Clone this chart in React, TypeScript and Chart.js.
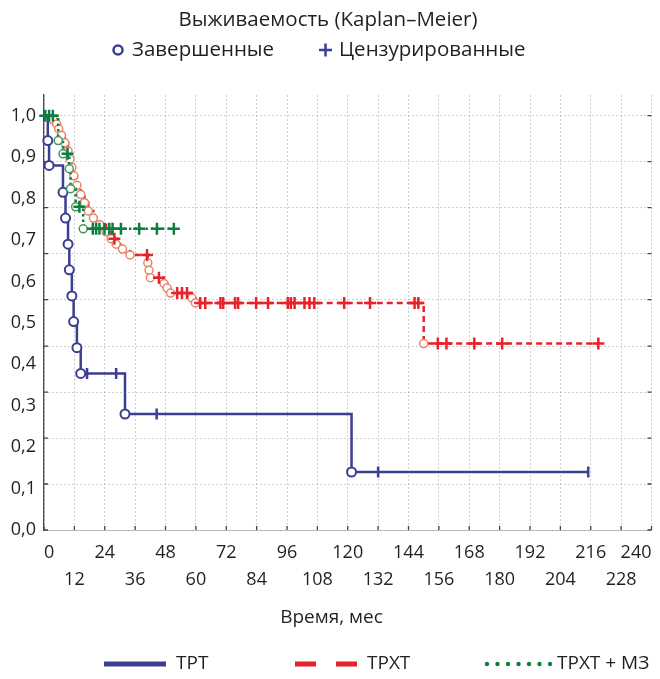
import React, { useEffect, useRef } from "react";
import { Chart, registerables } from "chart.js";

Chart.register(...registerables);

// ---------- text ----------
const TITLE = "Выживаемость (Kaplan–Meier)";
const LEGEND_EVENT = "Завершенные";
const LEGEND_CENSOR = "Цензурированные";
const SERIES_NAMES = ["ТРТ", "ТРХТ", "ТРХТ + МЗ"];
const X_TITLE = "Время, мес";

// ---------- axes ----------
const xTicks = [0, 12, 24, 36, 48, 60, 72, 84, 96, 108, 120, 132, 144, 156, 168, 180, 192, 204, 216, 228, 240];
const yTicks = [0, 0.1, 0.2, 0.3, 0.4, 0.5, 0.6, 0.7, 0.8, 0.9, 1.0];
const gridLevels = [0, 0.111, 0.222, 0.333, 0.444, 0.556, 0.667, 0.778, 0.889, 1.0];

// ---------- ТРТ ----------
const tptEventT = [1.5, 2, 7.5, 8.5, 9.5, 10, 11, 11.7, 13, 14.5, 32, 121.5];
const tptEventS = [0.94, 0.88, 0.815, 0.753, 0.69, 0.628, 0.565, 0.503, 0.44, 0.378, 0.28, 0.14];
const tptCensorT = [17, 28.5, 44.5, 132, 215];

// ---------- ТРХТ ----------
const trxtEventT = [3.5, 5, 5.8, 6.9, 8.2, 9.5, 10.3, 11, 11.8, 13, 14.5, 16, 17.5, 19.5, 22, 24.5, 26.5, 28.5, 31, 34, 41, 41.5, 42, 47.4, 48.6, 50, 58.4, 59.8, 150];
const trxtEventS = [0.99, 0.98, 0.968, 0.953, 0.935, 0.915, 0.895, 0.875, 0.855, 0.832, 0.81, 0.79, 0.77, 0.753, 0.737, 0.72, 0.703, 0.69, 0.678, 0.664, 0.645, 0.627, 0.609, 0.595, 0.584, 0.572, 0.56, 0.548, 0.45];
const trxtCensorT = [27.8, 40.7, 45.4, 52.6, 54.5, 56.5, 61.7, 63.7, 69.7, 70.8, 75.5, 76.7, 83.8, 88.5, 96.3, 97.5, 99, 102.9, 104.9, 106.8, 118.6, 128.8, 146.4, 147.9, 155.6, 159, 170, 181, 219];

// ---------- ТРХТ + МЗ ----------
const mzEventT = [5.6, 7.5, 10, 10.5, 12.5, 15.5];
const mzEventS = [0.94, 0.908, 0.872, 0.824, 0.78, 0.727];
const mzCensorT = [0.5, 2, 3.5, 9.3, 14, 19.3, 20.6, 21.9, 23.9, 25.8, 27.1, 30.4, 37.6, 44.6, 51.3];

// ---------- styles ----------
const BLUE = "#3b3e93";
const RED = "#e8222a";
const RED_CIRCLE = "#ea8468";
const GREEN = "#0e7d40";
const GREEN_CIRCLE = "#3a9a60";
const TEXT = "#231f20";
const FONT = "'Open Sans', 'Noto Sans', sans-serif";

function stepAt(evT: number[], evS: number[], t: number) {
  let s = 1;
  for (let i = 0; i < evT.length; i++) if (evT[i] <= t) s = evS[i];
  return s;
}
function kmLine(evT: number[], evS: number[], cenT: number[]) {
  const end = Math.max(...evT, ...cenT);
  const pts = [{ x: 0, y: 1 }];
  evT.forEach((t, i) => pts.push({ x: t, y: evS[i] }));
  pts.push({ x: end, y: stepAt(evT, evS, end) });
  return pts;
}
function events(evT: number[], evS: number[]) {
  return evT.map((t, i) => ({ x: t, y: evS[i] }));
}
function censors(evT: number[], evS: number[], cenT: number[]) {
  return cenT.map((t) => ({ x: t, y: stepAt(evT, evS, t) }));
}

const decor = {
  id: "decor",
  beforeDatasetsDraw(chart: any) {
    const { ctx, chartArea: a, scales } = chart;
    ctx.save();
    ctx.strokeStyle = "#444";
    ctx.lineWidth = 1.3;
    ctx.beginPath();
    scales.yg.ticks.forEach((t: any) => {
      const y = scales.yg.getPixelForValue(t.value);
      ctx.moveTo(a.left, y); ctx.lineTo(a.left + 4, y);
      ctx.moveTo(a.right - 4, y); ctx.lineTo(a.right, y);
    });
    scales.x.ticks.forEach((t: any) => {
      const x = scales.x.getPixelForValue(t.value);
      ctx.moveTo(x, a.bottom); ctx.lineTo(x, a.bottom - 4);
    });
    ctx.stroke();
    ctx.restore();
  },
  afterDraw(chart: any) {
    const { ctx } = chart;
    ctx.save();
    ctx.fillStyle = TEXT;
    ctx.textBaseline = "middle";
    // title
    ctx.font = `20.5px ${FONT}`;
    ctx.textAlign = "center";
    ctx.fillText(TITLE, 328, 20);
    // top legend
    ctx.textAlign = "left";
    ctx.strokeStyle = BLUE;
    ctx.lineWidth = 2.5;
    ctx.beginPath();
    ctx.arc(118, 50, 4.5, 0, Math.PI * 2);
    ctx.stroke();
    ctx.fillText(LEGEND_EVENT, 132, 50);
    ctx.beginPath();
    ctx.moveTo(319, 50); ctx.lineTo(332, 50);
    ctx.moveTo(325.5, 43.5); ctx.lineTo(325.5, 56.5);
    ctx.stroke();
    ctx.fillText(LEGEND_CENSOR, 339, 50);
    // bottom legend
    const ly = 664;
    ctx.font = `19px ${FONT}`;
    ctx.fillStyle = BLUE;
    ctx.fillRect(104, ly - 2.5, 62, 5);
    ctx.fillStyle = TEXT;
    ctx.fillText(SERIES_NAMES[0], 176, ly);
    ctx.fillStyle = RED;
    ctx.fillRect(295, ly - 2.5, 21, 5);
    ctx.fillRect(336, ly - 2.5, 21, 5);
    ctx.fillStyle = TEXT;
    ctx.fillText(SERIES_NAMES[1], 367, ly);
    ctx.fillStyle = GREEN;
    for (let i = 0; i < 7; i++) {
      ctx.beginPath();
      ctx.arc(487 + i * 10.5, ly, 2.2, 0, Math.PI * 2);
      ctx.fill();
    }
    ctx.fillStyle = TEXT;
    ctx.fillText(SERIES_NAMES[2], 557, ly);
    ctx.restore();
  },
};

export default function App() {
  const ref = useRef<HTMLCanvasElement | null>(null);
  useEffect(() => {
    if (!ref.current) return;
    const lineBase = { pointRadius: 0, pointHoverRadius: 0, fill: false, stepped: true, borderWidth: 2.5 };
    const markBase = { showLine: false, clip: 8 };
    const chart = new Chart(ref.current, {
      type: "line",
      data: {
        datasets: [
          { ...markBase, label: "mz-c", data: censors(mzEventT, mzEventS, mzCensorT), pointStyle: "cross", pointRadius: 6, pointBorderWidth: 2.5, borderColor: GREEN, pointBorderColor: GREEN, order: 0 },
          { ...markBase, label: "mz-e", data: events(mzEventT, mzEventS), pointStyle: "circle", pointRadius: 4, pointBorderWidth: 1.5, borderColor: GREEN_CIRCLE, pointBorderColor: GREEN_CIRCLE, pointBackgroundColor: "#ffffff", order: 1 },
          { ...lineBase, label: SERIES_NAMES[2], data: kmLine(mzEventT, mzEventS, mzCensorT), borderColor: GREEN, borderDash: [2.5, 3], order: 2 },
          { ...markBase, label: "trxt-c", data: censors(trxtEventT, trxtEventS, trxtCensorT), pointStyle: "cross", pointRadius: 6, pointBorderWidth: 2.5, borderColor: RED, pointBorderColor: RED, order: 3 },
          { ...markBase, label: "trxt-e", data: events(trxtEventT, trxtEventS), pointStyle: "circle", pointRadius: 4, pointBorderWidth: 1.5, borderColor: RED_CIRCLE, pointBorderColor: RED_CIRCLE, pointBackgroundColor: "#ffffff", order: 4 },
          { ...lineBase, label: SERIES_NAMES[1], data: kmLine(trxtEventT, trxtEventS, trxtCensorT), borderColor: RED, borderDash: [6, 4], order: 5 },
          { ...markBase, label: "tpt-c", data: censors(tptEventT, tptEventS, tptCensorT), pointStyle: "line", rotation: 90, pointRadius: 5.5, pointBorderWidth: 2.5, borderColor: BLUE, pointBorderColor: BLUE, order: 6 },
          { ...markBase, label: "tpt-e", data: events(tptEventT, tptEventS), pointStyle: "circle", pointRadius: 4.5, pointBorderWidth: 2, borderColor: BLUE, pointBorderColor: BLUE, pointBackgroundColor: "#ffffff", order: 7 },
          { ...lineBase, label: SERIES_NAMES[0], data: kmLine(tptEventT, tptEventS, tptCensorT), borderColor: BLUE, order: 8 },
        ] as any,
      },
      options: {
        animation: false,
        responsive: false,
        parsing: false as any,
        normalized: true,
        layout: { padding: { top: 95, right: 3, bottom: 50, left: 0 } },
        plugins: { legend: { display: false }, title: { display: false }, tooltip: { enabled: false } },
        events: [],
        scales: {
          x: {
            type: "linear",
            min: 0,
            max: 240,
            afterBuildTicks: (s: any) => { s.ticks = xTicks.map((v) => ({ value: v })); },
            afterFit: (s: any) => { s.height = 99; s.paddingLeft = 0; s.paddingRight = 0; },
            ticks: {
              autoSkip: false,
              maxRotation: 0,
              minRotation: 0,
              align: "inner",
              padding: 10,
              color: TEXT,
              font: { family: FONT, size: 18, lineHeight: 1.47 },
              callback: (v: any, i: number) => (i % 2 === 0 ? [String(v), ""] : ["", String(v)]),
            },
            grid: { color: "rgba(160,160,160,0.5)", lineWidth: 1, drawTicks: false },
            border: { display: true, color: "rgba(150,150,150,0.6)", width: 1, dash: [2, 2] },
            title: { display: true, text: X_TITLE + "\u2007\u2007\u2007", color: TEXT, font: { family: FONT, size: 19 }, padding: { top: 0, bottom: 0 } },
          },
          y: {
            type: "linear",
            position: "left",
            min: 0,
            max: 1.05,
            weight: 1,
            afterBuildTicks: (s: any) => { s.ticks = yTicks.map((v) => ({ value: v })); },
            afterFit: (s: any) => { s.width = 44; },
            ticks: {
              padding: 8,
              color: TEXT,
              font: { family: FONT, size: 18 },
              callback: (v: any) => Number(v).toFixed(1).replace(".", ","),
            },
            grid: { display: false, drawTicks: false },
            border: { display: true, color: "#4a4a4a", width: 1.3 },
          },
          yg: {
            type: "linear",
            position: "left",
            min: 0,
            max: 1.05,
            weight: 0,
            afterBuildTicks: (s: any) => { s.ticks = gridLevels.map((v) => ({ value: v })); },
            afterFit: (s: any) => { s.width = 0; },
            ticks: { display: false },
            grid: { color: "rgba(160,160,160,0.5)", lineWidth: 1, drawTicks: false },
            border: { display: false, dash: [2, 2] },
          },
        },
      } as any,
      plugins: [decor],
    });
    return () => chart.destroy();
  }, []);
  return (
    <div style={{ position: "absolute", left: 0, top: 0, width: 660, height: 679, background: "#fff" }}>
      <canvas ref={ref} width={660} height={679} style={{ display: "block" }} />
    </div>
  );
}
